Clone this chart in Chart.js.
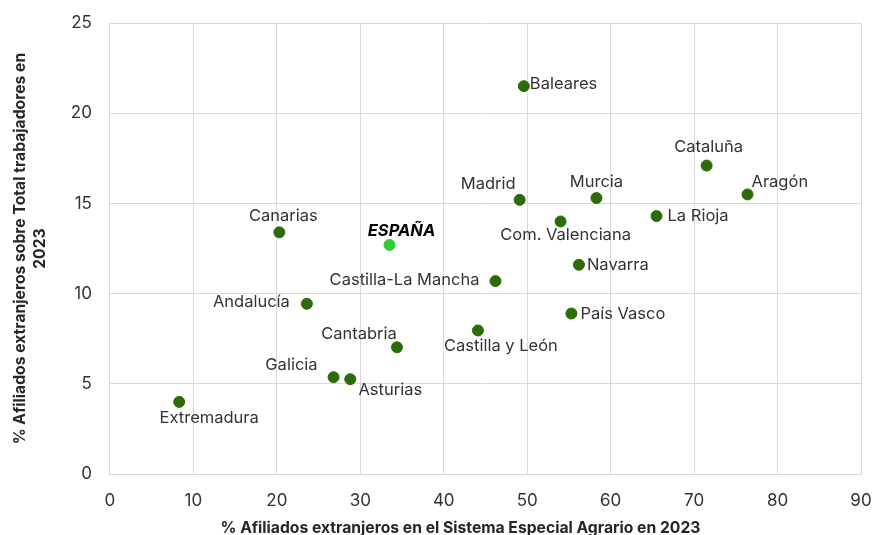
<!DOCTYPE html>
<html>
<head>
<meta charset="utf-8">
<script src="https://cdn.jsdelivr.net/npm/chart.js@4.4.1/dist/chart.umd.min.js"></script>
<style>
  html, body { margin: 0; padding: 0; background: #ffffff; }
  #wrap { width: 872px; height: 535px; position: relative; }
</style>
</head>
<body>
<div id="wrap"><canvas id="scatterChart"></canvas></div>
<script>
// Datos: comunidades autónomas
var regiones = ["Baleares", "Cataluña", "Aragón", "Madrid", "Murcia", "La Rioja",
  "Com. Valenciana", "Navarra", "Canarias", "ESPAÑA", "Castilla-La Mancha",
  "País Vasco", "Castilla y León", "Andalucía", "Cantabria", "Galicia",
  "Asturias", "Extremadura"];
// % afiliados extranjeros en el Sistema Especial Agrario
var pctAgrario = [49.6, 71.5, 76.4, 49.1, 58.3, 65.5, 54.0, 56.2, 20.3, 33.5,
  46.2, 55.3, 44.1, 23.6, 34.4, 26.8, 28.8, 8.3];
// % afiliados extranjeros sobre total trabajadores
var pctTotal = [21.5, 17.1, 15.5, 15.2, 15.3, 14.3, 14.0, 11.6, 13.4, 12.7,
  10.7, 8.9, 7.96, 9.44, 7.03, 5.37, 5.26, 4.0];
var xTicks = [0, 10, 20, 30, 40, 50, 60, 70, 80, 90];
var yTicks = [0, 5, 10, 15, 20, 25];

var tituloX = "% Afiliados extranjeros en el Sistema Especial Agrario en 2023";
var tituloY = ["% Afiliados extranjeros sobre Total trabajadores en", "2023"];

// posición de cada etiqueta respecto a su punto: [dx, dy, alineación]
var etiquetaPos = [
  [6, -2, "left"], [2, -19, "center"], [4, -12, "left"], [-4, -16, "right"],
  [0, -16, "center"], [11, 0, "left"], [5, 14, "center"], [8, 0, "left"],
  [4, -16, "center"], [12, -14, "center"], [-16, -1, "right"], [9, 1, "left"],
  [23, 16, "center"], [-17, -2, "right"], [-38, -13, "center"], [-16, -12, "right"],
  [40, 11, "center"], [30, 16, "center"]
];

var verdeOscuro = "#2d6a08";
var verdeClaro = "#33cc33";
var fuente = "Inter, 'Noto Sans', sans-serif";

var puntos = pctAgrario.map(function(x, i) { return { x: x, y: pctTotal[i] }; });
var colores = regiones.map(function(r) { return r === "ESPAÑA" ? verdeClaro : verdeOscuro; });

// Plugin para dibujar los nombres junto a los puntos y el título del eje X
var etiquetasPlugin = {
  id: "etiquetas",
  afterDatasetsDraw: function(chart) {
    var ctx = chart.ctx;
    var meta = chart.getDatasetMeta(0);
    ctx.save();
    ctx.textBaseline = "middle";
    meta.data.forEach(function(el, i) {
      var pos = etiquetaPos[i];
      if (regiones[i] === "ESPAÑA") {
        ctx.font = "italic bold 16.5px " + fuente;
        ctx.fillStyle = "#000000";
      } else {
        ctx.font = "16.5px " + fuente;
        ctx.fillStyle = "#333333";
      }
      ctx.textAlign = pos[2];
      ctx.fillText(regiones[i], el.x + pos[0], el.y + pos[1]);
    });

    // título del eje X, algo desplazado a la izquierda como en el original
    var area = chart.chartArea;
    ctx.font = "bold 15.7px " + fuente;
    ctx.fillStyle = "#262626";
    ctx.textAlign = "center";
    ctx.fillText(tituloX, (area.left + area.right) / 2 - 25, chart.height - 7);
    ctx.restore();
  }
};

new Chart(document.getElementById("scatterChart"), {
  type: "scatter",
  data: {
    datasets: [{
      label: "Comunidades",
      data: puntos,
      backgroundColor: colores,
      borderColor: colores,
      pointRadius: 5.5,
      pointHoverRadius: 5.5
    }]
  },
  options: {
    responsive: true,
    maintainAspectRatio: false,
    animation: false,
    layout: { padding: { top: 23, left: 6, right: 11, bottom: 0 } },
    plugins: {
      legend: { display: false },
      tooltip: { enabled: false }
    },
    scales: {
      x: {
        type: "linear",
        min: 0,
        max: 90,
        afterBuildTicks: function(scale) {
          scale.ticks = xTicks.map(function(v) { return { value: v }; });
        },
        grid: { color: "#d9d9d9", drawTicks: true, tickLength: 17, tickColor: "rgba(0,0,0,0)" },
        border: { color: "#d9d9d9" },
        ticks: { padding: 0, color: "#333333", font: { family: fuente, size: 17 } },
        title: {
          // el texto se dibuja en el plugin; aquí solo reserva el espacio
          display: true,
          text: tituloX,
          color: "rgba(0,0,0,0)",
          font: { family: fuente, size: 15.5, weight: "bold", lineHeight: 1.0 },
          padding: { top: 8, bottom: 0 }
        }
      },
      y: {
        type: "linear",
        min: 0,
        max: 25,
        afterBuildTicks: function(scale) {
          scale.ticks = yTicks.map(function(v) { return { value: v }; });
        },
        grid: { color: "#d9d9d9", drawTicks: true, tickLength: 18, tickColor: "rgba(0,0,0,0)" },
        border: { color: "#d9d9d9" },
        ticks: { padding: 0, color: "#333333", font: { family: fuente, size: 17 } },
        title: {
          display: true,
          text: tituloY,
          color: "#262626",
          font: { family: fuente, size: 15.7, weight: "bold", lineHeight: 1.3 },
          padding: { top: 4, bottom: 20 }
        }
      }
    }
  },
  plugins: [etiquetasPlugin]
});
</script>
</body>
</html>
